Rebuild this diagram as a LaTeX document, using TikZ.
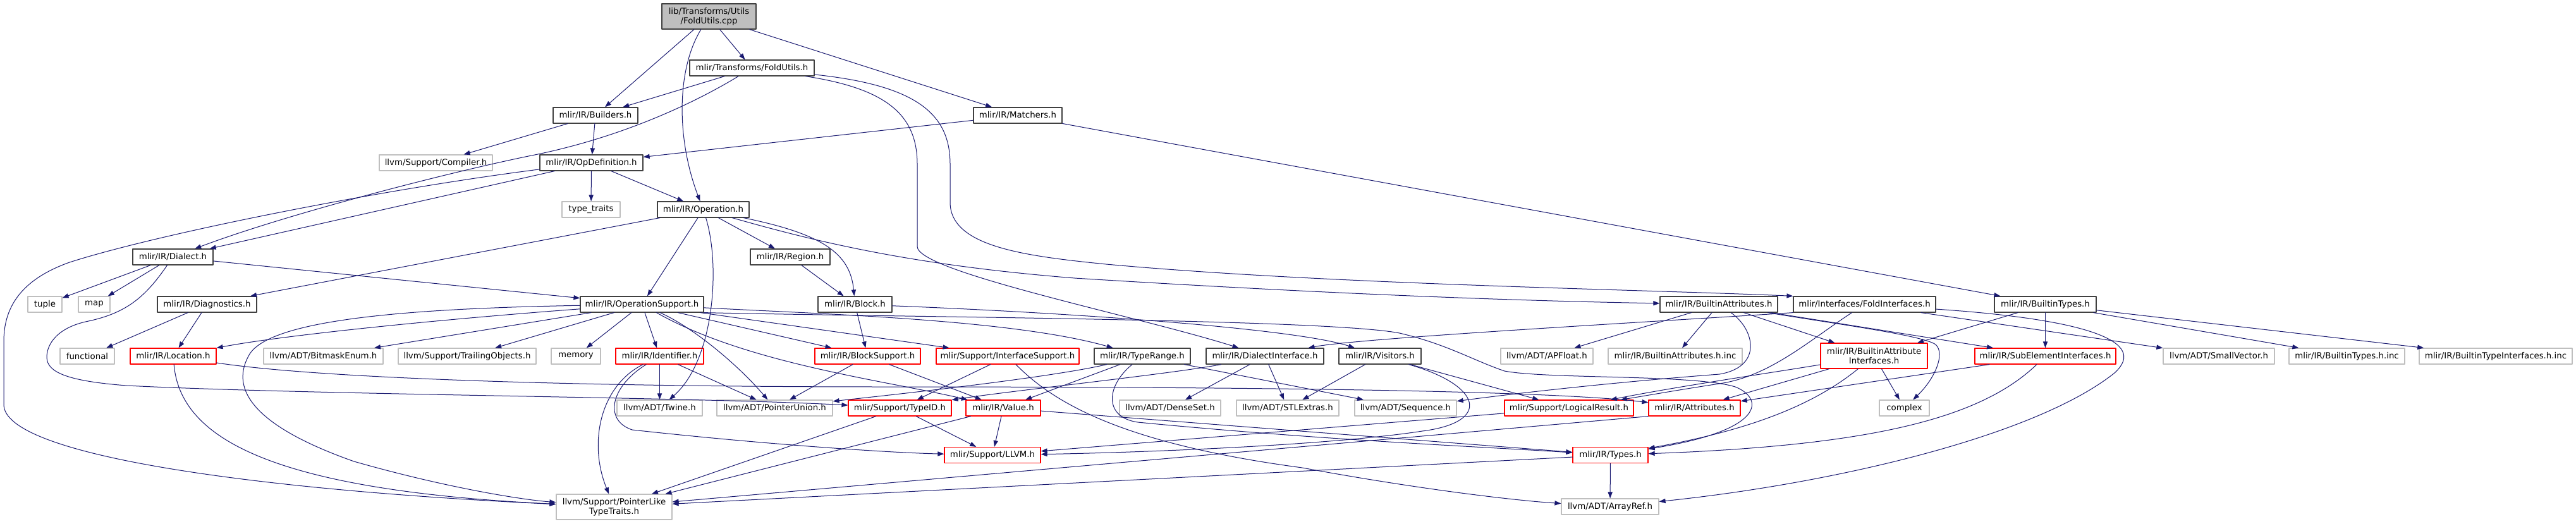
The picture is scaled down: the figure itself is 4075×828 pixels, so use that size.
\documentclass[tikz,border=0pt]{standalone}
\usepackage{fontspec}
\setmainfont{DejaVu Sans}
\usetikzlibrary{arrows.meta}
\definecolor{IncludeEdge}{HTML}{191970}
\definecolor{IncludeInk}{HTML}{404040}
\definecolor{IncludeGuide}{HTML}{BFBFBF}
\definecolor{IncludeCut}{HTML}{FF0000}
\definecolor{IncludeRoot}{HTML}{BFBFBF}
\tikzset{
    incl/graph/.style={
        x=0.75pt, y=-0.75pt,
        font=\fontsize{10}{11.5}\selectfont,
        line cap=round, line join=round
    },
    incl/box/.style={
        rectangle, inner sep=0pt, fill=white, line width=0.9pt,
        minimum height=18.75pt, minimum width=#1*0.75pt
    },
    incl/doc/.style={incl/box=#1, draw=IncludeInk},
    incl/sys/.style={incl/box=#1, draw=IncludeGuide},
    incl/cut/.style={incl/box=#1, draw=IncludeCut},
    incl/tall/.style={minimum height=30pt, align=center},
    incl/root/.style={incl/doc=#1, incl/tall, fill=IncludeRoot},
    incl/edge/.style={
        draw=IncludeEdge, line width=0.75pt,
        -{Triangle[length=7.5pt, width=5.4pt]}
    }
}

\begin{document}
\begin{tikzpicture}[incl/graph]
    \useasboundingbox (0,0) rectangle (4075,828);
    % files, row by row
    \node[incl/root=149] (FoldUtilsCpp) at (1121.5,26) {lib/Transforms/Utils\\/FoldUtils.cpp};
    \node[incl/doc=197] (FoldUtilsH) at (1189.5,107.5) {mlir/Transforms/FoldUtils.h};
    \node[incl/doc=134] (BuildersH) at (942,182.5) {mlir/IR/Builders.h};
    \node[incl/doc=140] (MatchersH) at (1610,182.5) {mlir/IR/Matchers.h};
    \node[incl/sys=179] (CompilerH) at (689.5,257.5) {llvm/Support/Compiler.h};
    \node[incl/doc=163] (OpDefinitionH) at (935.5,257.5) {mlir/IR/OpDefinition.h};
    \node[incl/sys=92] (TypeTraits) at (935,331.5) {type\_traits};
    \node[incl/doc=145] (OperationH) at (1112.5,331.5) {mlir/IR/Operation.h};
    \node[incl/doc=126] (RegionH) at (1250,406.5) {mlir/IR/Region.h};
    \node[incl/doc=127] (DialectH) at (273.5,406.5) {mlir/IR/Dialect.h};
    \node[incl/sys=54] (Tuple) at (71,481.5) {tuple};
    \node[incl/sys=50] (Map) at (149,481.5) {map};
    \node[incl/doc=157] (DiagnosticsH) at (327.5,481.5) {mlir/IR/Diagnostics.h};
    \node[incl/doc=195] (OperationSupportH) at (1015.5,481.5) {mlir/IR/OperationSupport.h};
    \node[incl/doc=117] (BlockH) at (1352.5,481.5) {mlir/IR/Block.h};
    \node[incl/doc=186] (BuiltinAttributesH) at (2719,481.5) {mlir/IR/BuiltinAttributes.h};
    \node[incl/doc=225] (FoldInterfacesH) at (2949.5,481.5) {mlir/Interfaces/FoldInterfaces.h};
    \node[incl/doc=161] (BuiltinTypesH) at (3235.5,481.5) {mlir/IR/BuiltinTypes.h};
    \node[incl/sys=86] (Functional) at (138,563.5) {functional};
    \node[incl/cut=136] (LocationH) at (274,563.5) {mlir/IR/Location.h};
    \node[incl/sys=189] (BitmaskEnumH) at (511.5,563.5) {llvm/ADT/BitmaskEnum.h};
    \node[incl/sys=218] (TrailingObjectsH) at (739,563.5) {llvm/Support/TrailingObjects.h};
    \node[incl/sys=78] (Memory) at (911,563.5) {memory};
    \node[incl/cut=139] (IdentifierH) at (1043.5,563.5) {mlir/IR/Identifier.h};
    \node[incl/cut=167] (BlockSupportH) at (1372.5,563.5) {mlir/IR/BlockSupport.h};
    \node[incl/cut=226] (InterfaceSupportH) at (1594,563.5) {mlir/Support/InterfaceSupport.h};
    \node[incl/doc=152] (TypeRangeH) at (1807,563.5) {mlir/IR/TypeRange.h};
    \node[incl/doc=186] (DialectInterfaceH) at (2001,563.5) {mlir/IR/DialectInterface.h};
    \node[incl/doc=130] (VisitorsH) at (2183,563.5) {mlir/IR/Visitors.h};
    \node[incl/sys=146] (APFloatH) at (2447,563.5) {llvm/ADT/APFloat.h};
    \node[incl/sys=212] (BuiltinAttributesInc) at (2650,563.5) {mlir/IR/BuiltinAttributes.h.inc};
    \node[incl/cut=169, incl/tall] (BuiltinAttrInterfacesH) at (2964.5,563) {mlir/IR/BuiltinAttribute\\Interfaces.h};
    \node[incl/cut=223] (SubElementInterfacesH) at (3235.5,563.5) {mlir/IR/SubElementInterfaces.h};
    \node[incl/sys=176] (SmallVectorH) at (3510,563.5) {llvm/ADT/SmallVector.h};
    \node[incl/sys=183] (BuiltinTypesInc) at (3712.5,563.5) {mlir/IR/BuiltinTypes.h.inc};
    \node[incl/sys=242] (BuiltinTypeInterfacesInc) at (3948,563.5) {mlir/IR/BuiltinTypeInterfaces.h.inc};
    \node[incl/sys=135] (TwineH) at (1043.5,645.5) {llvm/ADT/Twine.h};
    \node[incl/sys=183] (PointerUnionH) at (1225.5,645.5) {llvm/ADT/PointerUnion.h};
    \node[incl/cut=163] (TypeIDH) at (1423.5,645.5) {mlir/Support/TypeID.h};
    \node[incl/cut=118] (ValueH) at (1587,645.5) {mlir/IR/Value.h};
    \node[incl/sys=160] (DenseSetH) at (1851,645.5) {llvm/ADT/DenseSet.h};
    \node[incl/sys=162] (STLExtrasH) at (2037,645.5) {llvm/ADT/STLExtras.h};
    \node[incl/sys=161] (SequenceH) at (2223.5,645.5) {llvm/ADT/Sequence.h};
    \node[incl/cut=204] (LogicalResultH) at (2482,645.5) {mlir/Support/LogicalResult.h};
    \node[incl/cut=145] (AttributesH) at (2680.5,645.5) {mlir/IR/Attributes.h};
    \node[incl/sys=79] (Complex) at (3012.5,645.5) {complex};
    \node[incl/cut=152] (LLVMH) at (1570,720) {mlir/Support/LLVM.h};
    \node[incl/cut=119] (TypesH) at (2547.5,720) {mlir/IR/Types.h};
    \node[incl/sys=183, incl/tall] (PointerLikeH) at (971.5,802) {llvm/Support/PointerLike\\TypeTraits.h};
    \node[incl/sys=154] (ArrayRefH) at (2547,801.5) {llvm/ADT/ArrayRef.h};

    % includes of the source file and of FoldUtils.h
    \draw[incl/edge] (FoldUtilsCpp) -- (BuildersH);
    \draw[incl/edge] (FoldUtilsCpp) .. controls (1070,110) and (1070,220) .. (OperationH);
    \draw[incl/edge] (FoldUtilsCpp) -- (FoldUtilsH);
    \draw[incl/edge] (FoldUtilsCpp) -- (MatchersH);
    \draw[incl/edge] (FoldUtilsH) -- (BuildersH);
    \draw[incl/edge] (FoldUtilsH) .. controls (1120,150) and (1000,215) .. (836,247)
        .. controls (700,275) and (450,340) .. (DialectH);
    \draw[incl/edge] (FoldUtilsH) .. controls (1400,140) and (1451,180) .. (1451,260) -- (1451,390)
        .. controls (1451,430) and (1800,500) .. (DialectInterfaceH);
    \draw[incl/edge] (FoldUtilsH) .. controls (1450,135) and (1503,180) .. (1503,260) -- (1503,320)
        .. controls (1503,390) and (1620,405) .. (1750,418)
        .. controls (2100,450) and (2600,458) .. (FoldInterfacesH.north west);
    \draw[incl/edge] (BuildersH) -- (CompilerH);
    \draw[incl/edge] (BuildersH) -- (OpDefinitionH);
    \draw[incl/edge] (MatchersH) -- (OpDefinitionH);
    \draw[incl/edge] (MatchersH) -- (BuiltinTypesH);

    % OpDefinition.h, Operation.h, Region.h
    \draw[incl/edge] (OpDefinitionH) -- (TypeTraits);
    \draw[incl/edge] (OpDefinitionH) -- (OperationH);
    \draw[incl/edge] (OpDefinitionH) -- (DialectH);
    \draw[incl/edge] (OpDefinitionH) .. controls (600,300) and (250,370) .. (110,415)
        .. controls (40,440) and (6,480) .. (6,540) -- (6,640)
        .. controls (6,720) and (400,775) .. (PointerLikeH);
    \draw[incl/edge] (OperationH) -- (DiagnosticsH);
    \draw[incl/edge] (OperationH) -- (OperationSupportH);
    \draw[incl/edge] (OperationH) .. controls (1140,420) and (1130,570) .. (TwineH);
    \draw[incl/edge] (OperationH) -- (RegionH);
    \draw[incl/edge] (OperationH) .. controls (1300,370) and (1345,400) .. (BlockH);
    \draw[incl/edge] (OperationH) .. controls (1300,385) and (1450,420) .. (1700,440)
        .. controls (2100,465) and (2400,476) .. (BuiltinAttributesH);
    \draw[incl/edge] (RegionH) -- (BlockH);

    % Dialect.h, Diagnostics.h
    \draw[incl/edge] (DialectH) -- (Tuple);
    \draw[incl/edge] (DialectH) -- (Map);
    \draw[incl/edge] (DialectH) .. controls (230,470) and (200,495) .. (140,508)
        .. controls (90,518) and (74,545) .. (74,565)
        .. controls (74,590) and (110,603) .. (200,610)
        .. controls (500,625) and (1100,628) .. (TypeIDH);
    \draw[incl/edge] (DialectH) -- (OperationSupportH);
    \draw[incl/edge] (DiagnosticsH) -- (Functional);
    \draw[incl/edge] (DiagnosticsH) -- (LocationH);

    % OperationSupport.h
    \draw[incl/edge] (OperationSupportH) .. controls (700,505) and (450,530) .. (LocationH);
    \draw[incl/edge] (OperationSupportH) .. controls (650,488) and (430,505) .. (395,560)
        .. controls (365,610) and (390,670) .. (560,730)
        .. controls (700,770) and (820,790) .. (PointerLikeH);
    \draw[incl/edge] (OperationSupportH) -- (BitmaskEnumH);
    \draw[incl/edge] (OperationSupportH) -- (TrailingObjectsH);
    \draw[incl/edge] (OperationSupportH) -- (Memory);
    \draw[incl/edge] (OperationSupportH) -- (IdentifierH);
    \draw[incl/edge] (OperationSupportH) .. controls (1100,520) and (1170,580) .. (PointerUnionH);
    \draw[incl/edge] (OperationSupportH) .. controls (1180,575) and (1400,602) .. (ValueH);
    \draw[incl/edge] (OperationSupportH) -- (BlockSupportH);
    \draw[incl/edge] (OperationSupportH) -- (InterfaceSupportH);
    \draw[incl/edge] (OperationSupportH) .. controls (1300,497) and (1600,505) .. (TypeRangeH);
    \draw[incl/edge] (OperationSupportH.south east) .. controls (1450,502) and (2100,505) .. (2214,527)
        .. controls (2290,545) and (2330,570) .. (2380,587)
        .. controls (2450,600) and (2680,592) .. (2745,612)
        .. controls (2790,630) and (2795,680) .. (TypesH);

    % Block.h and the red (cut) headers
    \draw[incl/edge] (BlockH) -- (BlockSupportH);
    \draw[incl/edge] (BlockH) .. controls (1700,495) and (2050,520) .. (VisitorsH);
    \draw[incl/edge] (BlockSupportH) -- (PointerUnionH);
    \draw[incl/edge] (BlockSupportH) -- (ValueH);
    \draw[incl/edge] (InterfaceSupportH) -- (TypeIDH);
    \draw[incl/edge] (InterfaceSupportH) .. controls (1660,630) and (1760,700) .. (2060,740)
        .. controls (2250,775) and (2400,792) .. (ArrayRefH);
    \draw[incl/edge] (LocationH) .. controls (285,690) and (420,775) .. (PointerLikeH);
    \draw[incl/edge] (LocationH) .. controls (500,598) and (900,612) .. (1400,612)
        .. controls (2000,612) and (2450,618) .. (AttributesH);
    \draw[incl/edge] (IdentifierH) -- (TwineH);
    \draw[incl/edge] (IdentifierH) -- (PointerUnionH);
    \draw[incl/edge] (IdentifierH) .. controls (950,610) and (930,700) .. (PointerLikeH);
    \draw[incl/edge] (IdentifierH) .. controls (965,612) and (955,665) .. (1000,680)
        .. controls (1200,702) and (1400,716) .. (LLVMH);
    \draw[incl/edge] (TypeIDH) -- (LLVMH);
    \draw[incl/edge] (TypeIDH) -- (PointerLikeH);
    \draw[incl/edge] (ValueH) -- (LLVMH);
    \draw[incl/edge] (ValueH) -- (PointerLikeH);
    \draw[incl/edge] (ValueH) -- (TypesH);
    \draw[incl/edge] (LogicalResultH) -- (LLVMH);
    \draw[incl/edge] (AttributesH.south west) -- (PointerLikeH);
    \draw[incl/edge] (TypesH) -- (ArrayRefH);
    \draw[incl/edge] (TypesH) -- (PointerLikeH);

    % TypeRange.h, DialectInterface.h, Visitors.h
    \draw[incl/edge] (TypeRangeH) .. controls (1650,600) and (1360,630) .. (PointerUnionH);
    \draw[incl/edge] (TypeRangeH) -- (ValueH);
    \draw[incl/edge] (TypeRangeH) .. controls (1750,610) and (1745,660) .. (1800,668)
        .. controls (2100,697) and (2350,707) .. (TypesH);
    \draw[incl/edge] (TypeRangeH) -- (SequenceH);
    \draw[incl/edge] (DialectInterfaceH) .. controls (1850,592) and (1600,618) .. (TypeIDH);
    \draw[incl/edge] (DialectInterfaceH) -- (DenseSetH);
    \draw[incl/edge] (DialectInterfaceH) -- (STLExtrasH);
    \draw[incl/edge] (VisitorsH) -- (STLExtrasH);
    \draw[incl/edge] (VisitorsH) -- (LogicalResultH);
    \draw[incl/edge] (VisitorsH) .. controls (2345,610) and (2360,668) .. (2250,682)
        .. controls (2100,705) and (1800,716) .. (LLVMH);

    % BuiltinAttributes.h, FoldInterfaces.h, BuiltinTypes.h
    \draw[incl/edge] (BuiltinAttributesH) -- (APFloatH);
    \draw[incl/edge] (BuiltinAttributesH) -- (BuiltinAttributesInc);
    \draw[incl/edge] (BuiltinAttributesH) .. controls (2775,520) and (2790,580) .. (2720,592)
        .. controls (2550,605) and (2400,622) .. (SequenceH);
    \draw[incl/edge] (BuiltinAttributesH) -- (BuiltinAttrInterfacesH);
    \draw[incl/edge] (BuiltinAttributesH) -- (SubElementInterfacesH);
    \draw[incl/edge] (BuiltinAttributesH) .. controls (2900,512) and (3040,530) .. (3062,545)
        .. controls (3078,560) and (3060,600) .. (Complex);
    \draw[incl/edge] (FoldInterfacesH.south west) .. controls (2600,510) and (2150,535) .. (DialectInterfaceH);
    \draw[incl/edge] (FoldInterfacesH) .. controls (2860,540) and (2800,595) .. (2720,607)
        .. controls (2660,616) and (2610,625) .. (LogicalResultH);
    \draw[incl/edge] (FoldInterfacesH) .. controls (3300,505) and (3400,540) .. (3345,590)
        .. controls (3220,690) and (2900,765) .. (ArrayRefH);
    \draw[incl/edge] (FoldInterfacesH) -- (SmallVectorH);
    \draw[incl/edge] (BuiltinTypesH) -- (BuiltinAttrInterfacesH);
    \draw[incl/edge] (BuiltinTypesH) -- (SubElementInterfacesH);
    \draw[incl/edge] (BuiltinTypesH) -- (BuiltinTypesInc);
    \draw[incl/edge] (BuiltinTypesH) -- (BuiltinTypeInterfacesInc);
    \draw[incl/edge] (BuiltinAttrInterfacesH) -- (Complex);
    \draw[incl/edge] (BuiltinAttrInterfacesH) -- (AttributesH);
    \draw[incl/edge] (BuiltinAttrInterfacesH) .. controls (2870,640) and (2770,680) .. (TypesH);
    \draw[incl/edge] (BuiltinAttrInterfacesH) .. controls (2800,590) and (2650,612) .. (LogicalResultH);
    \draw[incl/edge] (SubElementInterfacesH) -- (AttributesH);
    \draw[incl/edge] (SubElementInterfacesH) .. controls (3130,665) and (2950,705) .. (TypesH);
\end{tikzpicture}
\end{document}
